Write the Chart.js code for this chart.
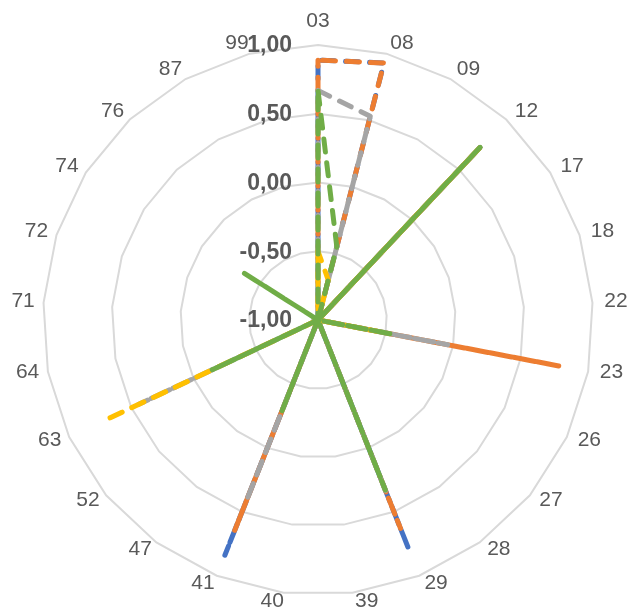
<!DOCTYPE html>
<html>
<head>
<meta charset="utf-8">
<script src="https://cdn.jsdelivr.net/npm/chart.js@4/dist/chart.umd.min.js"></script>
<style>
  html, body { margin: 0; padding: 0; background: #ffffff; }
  canvas { display: block; }
</style>
</head>
<body>
<canvas id="radar" width="629" height="613"></canvas>
<script>
// Category codes around the radar, clockwise from the top
const categories = ['03', '08', '09', '12', '17', '18', '22', '23', '26', '27', '28', '29',
                    '39', '40', '41', '47', '52', '63', '64', '71', '72', '74', '76', '87', '99'];

// Values per series (scale -1 .. 1)
const seriesBlue   = [0.89, 0.93, -1, 0.72, -1, -1, -1, -1,    -1, -1, -1, 0.79, -1, -1, 0.84,  -1, -1, -1,    -1, -1,    -1, -1,    -1, -1, -1];
const seriesOrange = [0.89, 0.93, -1, 0.72, -1, -1, -1, 0.79,  -1, -1, -1, 0.63, -1, -1, 0.65,  -1, -1, -1,    -1, -1,    -1, -1,    -1, -1, -1];
const seriesGray   = [0.67, 0.53, -1, 0.72, -1, -1, -1, -0.04, -1, -1, -1, 0.37, -1, -1, 0.42,  -1, -1, 0.44,  -1, -0.93, -1, -1,    -1, -1, -1];
const seriesYellow = [-0.5, -0.7, -1, 0.72, -1, -1, -1, -0.55, -1, -1, -1, -1,   -1, -1, -1,    -1, -1, 0.71,  -1, -1,    -1, -1,    -1, -1, -1];
const seriesGreen  = [0.67, -0.45, -1, 0.73, -1, -1, -1, -0.45, -1, -1, -1, 0.33, -1, -1, -0.29, -1, -1, -0.15, -1, -1,    -1, -0.36, -1, -1, -1];

// Radial tick values and their printed form
const tickValues = [-1, -0.5, 0, 0.5, 1];
const tickLabels = ['-1,00', '-0,50', '0,00', '0,50', '1,00'];

const FONT = '"Liberation Sans", Arial, "DejaVu Sans", sans-serif';
const TEXT_COLOR = '#595959';

// Dashed series line; the dash phase sets how the out-and-back spokes overlap
function series(label, values, color, order, dashOffset) {
  return {
    label,
    data: values,
    borderColor: color,
    backgroundColor: color,
    borderWidth: 5,
    borderDash: [13, 11],
    borderDashOffset: dashOffset,
    borderCapStyle: 'round',
    borderJoinStyle: 'round',
    fill: false,
    tension: 0,
    pointRadius: 0,
    pointHoverRadius: 0,
    order
  };
}

// Category labels placed beside each outer vertex
const categoryLabels = {
  id: 'categoryLabels',
  afterDraw(chart) {
    const r = chart.scales.r;
    const ctx = chart.ctx;
    ctx.save();
    ctx.font = '21px ' + FONT;
    ctx.fillStyle = TEXT_COLOR;
    ctx.textAlign = 'center';
    ctx.textBaseline = 'middle';
    chart.data.labels.forEach((lbl, i) => {
      const a = r.getIndexAngle(i);
      const s = Math.sin(a), c = Math.cos(a);
      const v = r.getPointPosition(i, r.drawingArea);
      let dx, dy;
      if (Math.abs(s) < 1e-3) {
        dx = 0;
        dy = c > 0 ? -24 : 10;
      } else {
        dx = s > 0 ? 13 + 10.5 * s : -(10 + 10.5 * -s);
        dy = -1 - 9.6 * c;
      }
      ctx.fillText(lbl, v.x + dx, v.y + dy);
    });
    ctx.restore();
  }
};

// Bold value labels to the left of the vertical axis
const valueLabels = {
  id: 'valueLabels',
  afterDraw(chart) {
    const r = chart.scales.r;
    const ctx = chart.ctx;
    ctx.save();
    ctx.font = 'bold 23px ' + FONT;
    ctx.fillStyle = TEXT_COLOR;
    ctx.textAlign = 'right';
    ctx.textBaseline = 'middle';
    tickValues.forEach((val, i) => {
      const d = r.getDistanceFromCenterForValue(val);
      ctx.fillText(tickLabels[i], r.xCenter - 26, r.yCenter - d + 1);
    });
    ctx.restore();
  }
};

new Chart(document.getElementById('radar'), {
  type: 'radar',
  data: {
    labels: categories,
    datasets: [
      series('Blue', seriesBlue, '#4472C4', 4, -3.6),
      series('Orange', seriesOrange, '#ED7D31', 3, -4.5),
      series('Gray', seriesGray, '#A5A5A5', 2, 0),
      series('Yellow', seriesYellow, '#FFC000', 1, 3),
      series('Green', seriesGreen, '#70AD47', 0, -1)
    ]
  },
  options: {
    responsive: false,
    animation: false,
    devicePixelRatio: 1,
    layout: { padding: { left: 43, right: 36, top: 45, bottom: 18 } },
    plugins: {
      legend: { display: false },
      tooltip: { enabled: false }
    },
    scales: {
      r: {
        min: -1,
        max: 1,
        ticks: { stepSize: 0.5, display: false },
        grid: { color: '#d9d9d9', lineWidth: 2 },
        angleLines: { display: false },
        pointLabels: { display: false }
      }
    }
  },
  plugins: [categoryLabels, valueLabels]
});
</script>
</body>
</html>
